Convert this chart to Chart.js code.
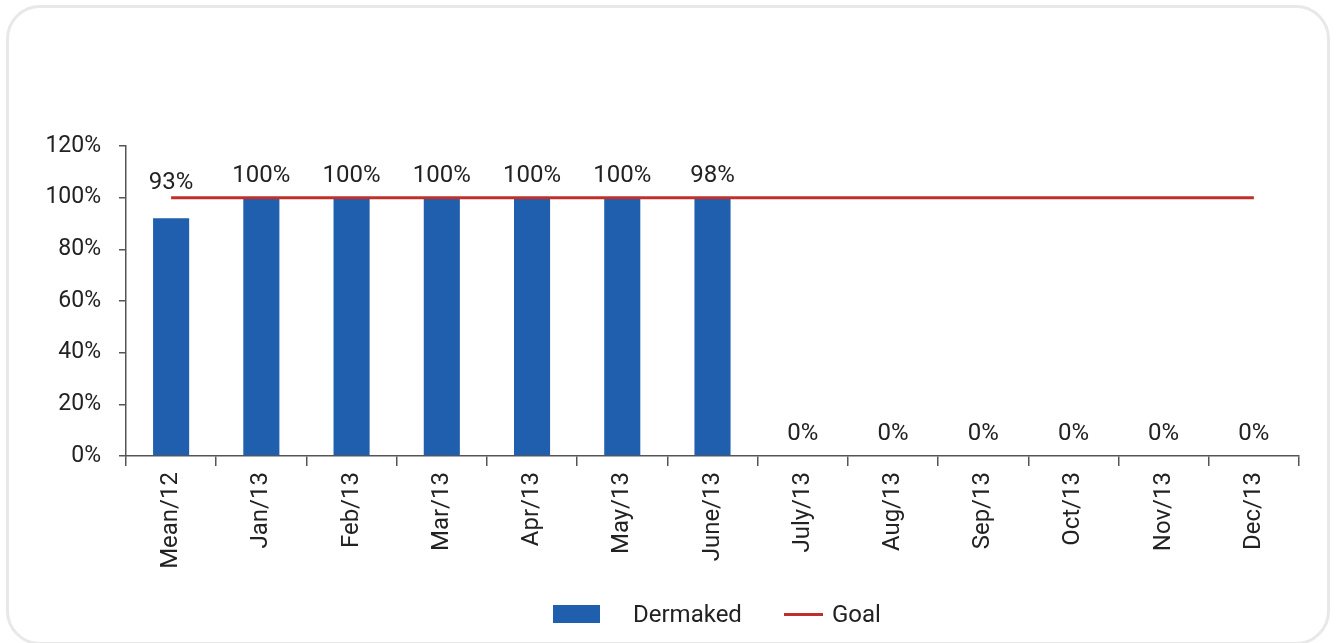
<!DOCTYPE html>
<html>
<head>
<meta charset="utf-8">
<script src="https://cdn.jsdelivr.net/npm/chart.js@4"></script>
<style>
  html, body { margin: 0; padding: 0; background: #fff; }
  body { width: 1336px; height: 643px; position: relative; overflow: hidden; font-family: Roboto, sans-serif; }
  .frame { position: absolute; left: 6px; top: 5px; width: 1324px; height: 640px; border: 3px solid #e8e8e8; border-radius: 34px; box-sizing: border-box; }
  #chart { position: absolute; left: 0; top: 0; }
  .legend { position: absolute; top: 600px; left: 0; height: 28px; font-size: 24px; color: #222; }
  .legend .box { position: absolute; left: 553px; top: 5px; width: 47px; height: 18px; background: #1f5fad; }
  .legend .line { position: absolute; left: 784px; top: 13px; width: 39px; height: 3px; background: #c0302b; }
  .legend span { position: absolute; top: 0; line-height: 28px; white-space: nowrap; }
</style>
</head>
<body>
<div class="frame"></div>
<canvas id="chart" width="1336" height="643"></canvas>
<div class="legend">
  <div class="box"></div><span style="left:633px">Dermaked</span>
  <div class="line"></div><span style="left:832px">Goal</span>
</div>
<script>
// dados
const categorias = ['Mean/12', 'Jan/13', 'Feb/13', 'Mar/13', 'Apr/13', 'May/13', 'June/13',
  'July/13', 'Aug/13', 'Sep/13', 'Oct/13', 'Nov/13', 'Dec/13'];
const dermaked = [92, 100, 100, 100, 100, 100, 100, 0, 0, 0, 0, 0, 0];
const rotulos = ['93%', '100%', '100%', '100%', '100%', '100%', '98%', '0%', '0%', '0%', '0%', '0%', '0%'];
const goal = [100, 100, 100, 100, 100, 100, 100, 100, 100, 100, 100, 100, 100];
const yTicks = [0, 20, 40, 60, 80, 100, 120];

const FONT = { family: 'Roboto, sans-serif', size: 24 };
const FONT_Y = { family: 'Roboto, sans-serif', size: 23 };
const AXIS = '#555';

// rótulos acima das barras
const rotulosPlugin = {
    id: 'rotulos',
    afterDatasetsDraw(chart) {
        const ctx = chart.ctx;
        const meta = chart.getDatasetMeta(1);
        const goalY = chart.scales.y.getPixelForValue(goal[0]);
        ctx.save();
        ctx.font = `${FONT.size}px ${FONT.family}`;
        ctx.fillStyle = '#222';
        ctx.textAlign = 'center';
        ctx.textBaseline = 'middle';
        meta.data.forEach((bar, i) => {
            let y = bar.y - 22;
            if (dermaked[i] >= goal[i] - 15) y = Math.min(y, goalY - 15);
            ctx.fillText(rotulos[i], bar.x, y);
        });
        ctx.restore();
    }
};

new Chart(document.getElementById('chart').getContext('2d'), {
    data: {
        labels: categorias,
        datasets: [
            {
                type: 'line',
                label: 'Goal',
                data: goal,
                borderColor: '#c0302b',
                borderWidth: 3,
                pointRadius: 0,
                order: 0
            },
            {
                type: 'bar',
                label: 'Dermaked',
                data: dermaked,
                backgroundColor: '#1f5fad',
                barPercentage: 0.4,
                categoryPercentage: 1,
                order: 1
            }
        ]
    },
    options: {
        responsive: false,
        animation: false,
        layout: { padding: { left: 0, top: 146, right: 37, bottom: 67 } },
        plugins: { legend: { display: false }, tooltip: { enabled: false } },
        scales: {
            x: {
                grid: { offset: true, drawOnChartArea: false, drawTicks: true, tickLength: 10, color: AXIS, lineWidth: 1.5 },
                border: { display: true, color: AXIS, width: 1.5 },
                ticks: { minRotation: 90, maxRotation: 90, padding: 6, color: '#222', font: FONT, autoSkip: false },
                afterFit: s => { s.height = 120; }
            },
            y: {
                min: 0,
                max: 120,
                afterBuildTicks: s => { s.ticks = yTicks.map(v => ({ value: v })); },
                grid: { drawOnChartArea: false, drawTicks: true, tickLength: 7, color: AXIS, lineWidth: 1.5 },
                border: { display: true, color: AXIS, width: 1.5 },
                ticks: { padding: 18, color: '#222', font: FONT_Y, callback: v => v + '%' },
                afterFit: s => { s.width = 126; }
            }
        }
    },
    plugins: [rotulosPlugin]
});
</script>
</body>
</html>
